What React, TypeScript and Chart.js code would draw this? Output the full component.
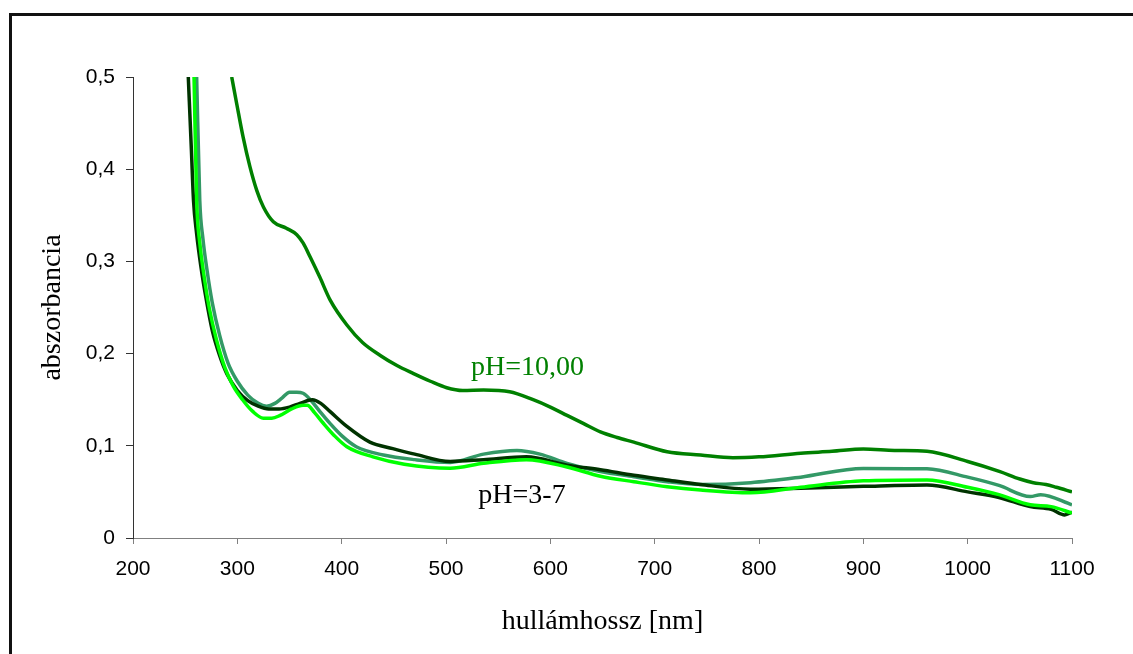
import React, { useEffect, useRef } from 'react';
import { Chart, registerables } from 'chart.js';

Chart.register(...registerables);

// Axis ticks
const xTickValues = [200, 300, 400, 500, 600, 700, 800, 900, 1000, 1100];
const yTickLabels = ['0', '0,1', '0,2', '0,3', '0,4', '0,5'];

// Spectrum pH=10,00
const ph10Nm = [294.6, 299.4, 305.5, 312, 318.6, 325, 334.5, 347, 357, 363, 369.7, 379, 389, 405, 420, 437, 453, 468.5, 485, 500.7, 516, 536, 561, 583.5, 600, 616, 632, 648, 664, 680, 712, 744, 775, 800, 840, 870, 900, 930, 961, 1000, 1031, 1050, 1063, 1075, 1085, 1100];
const ph10Abs = [0.5, 0.471, 0.435, 0.403, 0.377, 0.359, 0.343, 0.336, 0.329, 0.32, 0.305, 0.283, 0.258, 0.231, 0.212, 0.198, 0.187, 0.1785, 0.17, 0.163, 0.16, 0.1605, 0.1587, 0.15, 0.142, 0.133, 0.124, 0.115, 0.109, 0.104, 0.0936, 0.09, 0.087, 0.088, 0.092, 0.094, 0.0965, 0.095, 0.094, 0.083, 0.072, 0.064, 0.06, 0.058, 0.055, 0.05];

// Spectra pH=3-7
const darkNm = [253, 256, 258, 261, 265, 270, 276, 283, 290, 300, 310, 320, 330, 340, 350, 360, 372, 380, 389, 405, 427, 449, 470, 504, 536, 577, 616, 648, 680, 712, 744, 792, 840, 900, 961, 1000, 1030, 1060, 1080, 1093, 1100];
const darkAbs = [0.5, 0.42, 0.366, 0.33, 0.295, 0.26, 0.225, 0.198, 0.178, 0.16, 0.149, 0.143, 0.14, 0.14, 0.142, 0.146, 0.15, 0.146, 0.137, 0.121, 0.104, 0.097, 0.091, 0.083, 0.085, 0.088, 0.079, 0.074, 0.068, 0.063, 0.058, 0.053, 0.054, 0.056, 0.0575, 0.05, 0.044, 0.034, 0.031, 0.025, 0.028];

const tealNm = [261, 264, 267, 271, 276, 283, 291, 300, 310, 320, 328, 336, 343, 350, 357, 363, 370, 380, 389, 400, 414, 440, 470, 504, 536, 568, 590, 616, 648, 680, 712, 744, 792, 840, 900, 961, 1000, 1030, 1060, 1070, 1100];
const tealAbs = [0.5, 0.366, 0.325, 0.29, 0.255, 0.22, 0.19, 0.17, 0.155, 0.146, 0.143, 0.146, 0.152, 0.158, 0.158, 0.157, 0.15, 0.136, 0.124, 0.111, 0.099, 0.09, 0.085, 0.082, 0.091, 0.095, 0.091, 0.081, 0.072, 0.0665, 0.061, 0.058, 0.06, 0.066, 0.0755, 0.075, 0.066, 0.057, 0.045, 0.047, 0.036];

const brightNm = [258.5, 261, 264, 268, 273, 280, 288, 296, 305, 315, 325, 333, 341, 352, 363, 367, 374, 382, 393, 405, 430, 460, 504, 536, 577, 616, 648, 680, 712, 744, 792, 840, 900, 961, 1000, 1030, 1060, 1080, 1100];
const brightAbs = [0.5, 0.366, 0.32, 0.285, 0.25, 0.215, 0.185, 0.165, 0.15, 0.137, 0.13, 0.13, 0.133, 0.14, 0.144, 0.144, 0.136, 0.125, 0.111, 0.099, 0.088, 0.08, 0.0756, 0.081, 0.085, 0.077, 0.067, 0.061, 0.0556, 0.052, 0.049, 0.055, 0.062, 0.063, 0.055, 0.047, 0.036, 0.034, 0.027];

// In-plot labels (wavelength, absorbance of the text baseline)
const curveLabels = [
  { text: 'pH=10,00', nm: 524, abs: 0.177, color: '#008000' },
  { text: 'pH=3-7', nm: 531, abs: 0.0376, color: '#000000' },
];

const SERIF = '"Liberation Serif", "Times New Roman", serif';
const SANS = '"Liberation Sans", Arial, sans-serif';

const toPoints = (xs: number[], ys: number[]) => xs.map((x, i) => ({ x, y: ys[i] }));

const curveLabelPlugin = {
  id: 'curveLabels',
  afterDatasetsDraw(chart: any) {
    const { ctx, scales } = chart;
    ctx.save();
    ctx.font = `28px ${SERIF}`;
    ctx.textAlign = 'left';
    ctx.textBaseline = 'alphabetic';
    for (const l of curveLabels) {
      ctx.fillStyle = l.color;
      ctx.fillText(l.text, scales.x.getPixelForValue(l.nm), scales.y.getPixelForValue(l.abs));
    }
    ctx.restore();
  },
};

export default function App() {
  const canvasRef = useRef<HTMLCanvasElement | null>(null);

  useEffect(() => {
    if (!canvasRef.current) return;
    const line = (label: string, xs: number[], ys: number[], color: string) => ({
      label,
      data: toPoints(xs, ys),
      borderColor: color,
      backgroundColor: color,
      borderWidth: 3.5,
      pointRadius: 0,
      fill: false,
      cubicInterpolationMode: 'monotone' as const,
    });

    const chart = new Chart(canvasRef.current, {
      type: 'line',
      data: {
        datasets: [
          line('pH=3-7 (c)', brightNm, brightAbs, '#00ff00'),
          line('pH=3-7 (a)', darkNm, darkAbs, '#003300'),
          line('pH=3-7 (b)', tealNm, tealAbs, '#339966'),
          line('pH=10,00', ph10Nm, ph10Abs, '#008000'),
        ],
      },
      options: {
        responsive: false,
        animation: false,
        layout: { padding: { left: 0, right: 61, top: 77, bottom: 0 } },
        plugins: {
          legend: { display: false },
          tooltip: { enabled: false },
        },
        scales: {
          x: {
            type: 'linear',
            min: 200,
            max: 1100,
            afterFit: (scale: any) => {
              scale.height = 116;
            },
            afterBuildTicks: (scale: any) => {
              scale.ticks = xTickValues.map((v) => ({ value: v }));
            },
            ticks: {
              color: '#000',
              font: { family: SANS, size: 21 },
              padding: 13,
              maxRotation: 0,
              callback: (v: any) => String(v),
            },
            grid: {
              drawOnChartArea: false,
              drawTicks: true,
              tickLength: 6,
              color: '#808080',
            },
            border: { display: true, color: '#808080', width: 1 },
            title: {
              display: true,
              text: 'hullámhossz [nm]',
              color: '#000',
              font: { family: SERIF, size: 28 },
              padding: { top: 0, bottom: 16 },
            },
          },
          y: {
            type: 'linear',
            min: 0,
            max: 0.5,
            afterFit: (scale: any) => {
              scale.width = 133;
            },
            ticks: {
              stepSize: 0.1,
              color: '#000',
              font: { family: SANS, size: 21 },
              padding: 11,
              callback: (_v: any, i: number) => yTickLabels[i],
            },
            grid: {
              drawOnChartArea: false,
              drawTicks: true,
              tickLength: 7,
              color: '#333',
            },
            border: { display: true, color: '#333', width: 1 },
            title: {
              display: true,
              text: 'abszorbancia',
              color: '#000',
              font: { family: SERIF, size: 28 },
              padding: { top: 36, bottom: 0 },
            },
          },
        },
      },
      plugins: [curveLabelPlugin],
    });

    return () => chart.destroy();
  }, []);

  return (
    <div
      style={{
        position: 'fixed',
        left: 0,
        top: 0,
        width: 1133,
        height: 654,
        overflow: 'hidden',
        background: '#fff',
      }}
    >
      <div
        style={{
          position: 'absolute',
          left: 9,
          top: 13,
          width: 2000,
          height: 2000,
          border: '3px solid #111',
        }}
      />
      <canvas
        ref={canvasRef}
        width={1133}
        height={654}
        style={{ position: 'absolute', left: 0, top: 0 }}
      />
    </div>
  );
}
